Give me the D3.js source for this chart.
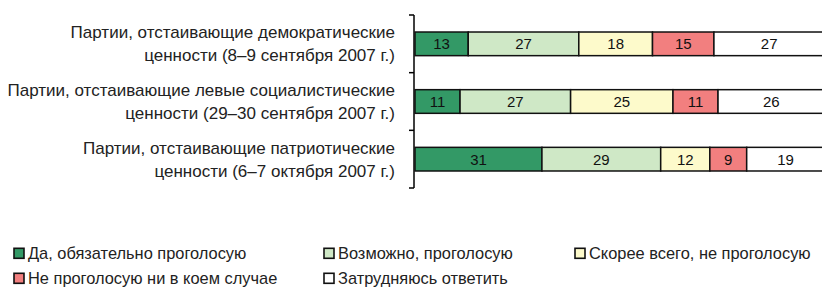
<!DOCTYPE html>
<html><head><meta charset="utf-8">
<script src="https://cdn.jsdelivr.net/npm/d3@7"></script>
<style>body{margin:0;background:#fff}svg{display:block}</style>
</head><body>
<svg id="c" width="822" height="288"></svg>
<script>
const categories = [
  ["Партии, отстаивающие демократические", "ценности (8–9 сентября 2007 г.)"],
  ["Партии, отстаивающие левые социалистические", "ценности (29–30 сентября 2007 г.)"],
  ["Партии, отстаивающие патриотические", "ценности (6–7 октября 2007 г.)"]
];
const seriesNames = ["Да, обязательно проголосую", "Возможно, проголосую", "Скорее всего, не проголосую", "Не проголосую ни в коем случае", "Затрудняюсь ответить"];
const s1 = [13, 11, 31];
const s2 = [27, 27, 29];
const s3 = [18, 25, 12];
const s4 = [15, 11, 9];
const s5 = [27, 26, 19];
const colors = ["#339966", "#cfe8c6", "#fdfacb", "#f27f7f", "#ffffff"];

const series = [s1, s2, s3, s4, s5];
const rows = categories.map((c, i) => {
  const o = {key: i};
  seriesNames.forEach((n, j) => o[n] = series[j][i]);
  return o;
});
const stack = d3.stack().keys(seriesNames)(rows);

const svg = d3.select("#c");
const font = "Liberation Sans, Arial, Helvetica, sans-serif";
const x = d3.scaleLinear().domain([0, 100]).range([415, 824.5]);
const y = d3.scaleBand().domain(d3.range(categories.length)).range([15, 188]).paddingInner(0.59).paddingOuter(0.295);
const yb = d3.scaleBand().domain(d3.range(categories.length)).range([15, 188]);

// axis
const ax = svg.append("g").attr("transform", "translate(414,0)");
ax.append("line").attr("y1", 15).attr("y2", 188).attr("stroke", "#000").attr("stroke-width", 1.5);
const tickYs = d3.range(categories.length + 1).map(i => i === categories.length ? yb.range()[1] : yb(i));
ax.selectAll(".t").data(tickYs).enter().append("line")
  .attr("x1", -5).attr("x2", 0).attr("y1", d => d).attr("y2", d => d)
  .attr("stroke", "#000").attr("stroke-width", 1.5);

// bars
const g = svg.append("g");
stack.forEach((layer, j) => {
  layer.forEach((d, i) => {
    g.append("rect")
      .attr("x", x(d[0])).attr("y", y(i))
      .attr("width", x(d[1]) - x(d[0])).attr("height", y.bandwidth())
      .attr("fill", colors[j]).attr("stroke", "#111").attr("stroke-width", 1.5);
    g.append("text")
      .attr("x", (x(d[0]) + x(d[1])) / 2).attr("y", y(i) + y.bandwidth() / 2)
      .attr("dy", "0.36em").attr("text-anchor", "middle")
      .attr("font-family", font).attr("font-size", 15)
      .attr("fill", "#111").text(d[1] - d[0]);
  });
});

// category labels
categories.forEach((lines, i) => {
  const cy = yb(i) + yb.bandwidth() / 2;
  lines.forEach((t, k) => {
    svg.append("text").attr("x", 395).attr("y", cy + (k - 0.5) * 23).attr("dy", "0.36em")
      .attr("text-anchor", "end").attr("font-family", font)
      .attr("font-size", 17).attr("fill", "#222").text(t);
  });
});

// legend
const legPos = [[14, 253.3], [324, 253.3], [575, 253.3], [14, 278.3], [324, 278.3]];
seriesNames.forEach((n, j) => {
  const [lx, ly] = legPos[j];
  svg.append("rect").attr("x", lx).attr("y", ly - 5).attr("width", 10).attr("height", 10)
    .attr("fill", colors[j]).attr("stroke", "#111").attr("stroke-width", 1.6);
  svg.append("text").attr("x", lx + 14).attr("y", ly).attr("dy", "0.36em")
    .attr("font-family", font).attr("font-size", 16.4)
    .attr("fill", "#222").text(n);
});
</script>
</body></html>
